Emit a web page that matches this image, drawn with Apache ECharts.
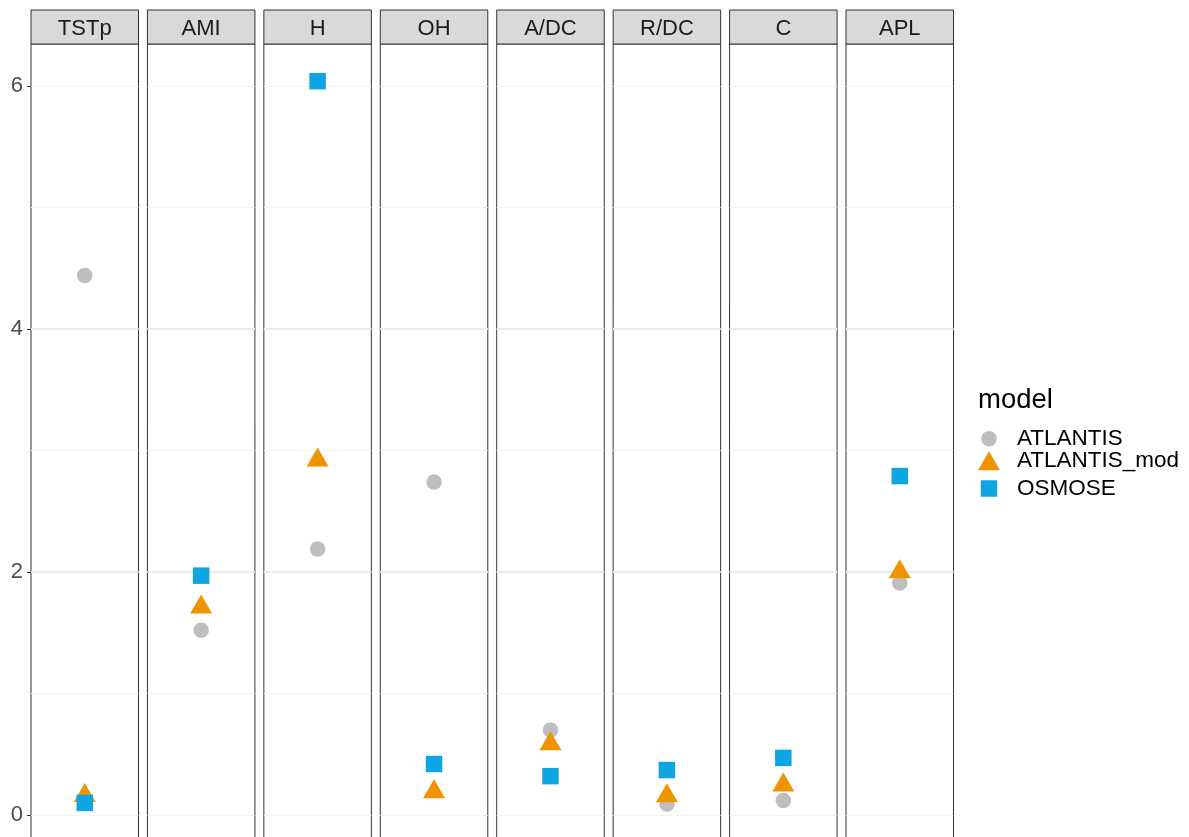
<!DOCTYPE html>
<html><head><meta charset="utf-8">
<script src="https://cdn.jsdelivr.net/npm/echarts@6/dist/echarts.min.js"></script>
<style>html,body{margin:0;padding:0;background:#fff}#c{width:1189px;height:837px}</style>
</head><body><div id="c"></div>
<script>
// ---- data ----
const categories = ['TSTp', 'AMI', 'H', 'OH', 'A/DC', 'R/DC', 'C', 'APL'];
const models = ['ATLANTIS', 'ATLANTIS_mod', 'OSMOSE'];
const atlantis    = [4.44, 1.52, 2.19, 2.74, 0.70, 0.09, 0.12, 1.91];
const atlantisMod = [0.16, 1.71, 2.92, 0.19, 0.585, 0.157, 0.246, 2.00];
const osmose      = [0.10, 1.97, 6.04, 0.42, 0.32, 0.37, 0.47, 2.79];
const yTicks = [0, 2, 4, 6];

// ---- styling ----
const Y_MIN = -0.222, Y_MAX = 6.346;
const FONT = '"Liberation Sans", Arial, sans-serif';
const colors  = {ATLANTIS: '#BEBEBE', ATLANTIS_mod: '#EF9400', OSMOSE: '#0FA5E3'};
const symbols = {ATLANTIS: 'circle', ATLANTIS_mod: 'triangle', OSMOSE: 'rect'};
const sizes   = {ATLANTIS: 15.5, ATLANTIS_mod: [22, 19], OSMOSE: 16.5};
const offsets = {ATLANTIS: [0, 0], ATLANTIS_mod: [0, -3.2], OSMOSE: [0, 0]};
const values  = {ATLANTIS: atlantis, ATLANTIS_mod: atlantisMod, OSMOSE: osmose};

const PANEL_LEFT = 31, PANEL_STEP = 116.43, PANEL_W = 107.5;
const grids = [], xAxes = [], yAxes = [], series = [];

categories.forEach((cat, i) => {
  const left = PANEL_LEFT + i * PANEL_STEP;
  const pg = grids.length;
  grids.push({left: left, top: 44, width: PANEL_W, height: 798, show: true, outerBoundsMode: 'none',
    containLabel: false, borderColor: '#333333', borderWidth: 1, backgroundColor: 'transparent'});
  const sg = grids.length;
  grids.push({left: left, top: 10, width: PANEL_W, height: 34, show: true, outerBoundsMode: 'none',
    containLabel: false, borderColor: '#333333', borderWidth: 1, backgroundColor: '#D9D9D9'});

  const px = xAxes.length;
  xAxes.push({gridIndex: pg, type: 'category', data: [cat], show: false});
  xAxes.push({gridIndex: sg, type: 'category', data: [cat],
    axisLine: {show: false}, axisTick: {show: false}, splitLine: {show: false},
    axisLabel: {inside: true, margin: 15, verticalAlign: 'middle', color: '#1A1A1A',
      fontSize: 22, fontFamily: FONT}});

  // minor grid axis
  yAxes.push({gridIndex: pg, type: 'value', position: 'right', min: Y_MIN, max: Y_MAX,
    minInterval: 1, maxInterval: 1,
    axisLine: {show: false}, axisTick: {show: false}, axisLabel: {show: false},
    splitLine: {show: true, showMinLine: false, showMaxLine: false,
      lineStyle: {color: '#F2F2F2', width: 1.2}}});
  const py = yAxes.length;
  yAxes.push({gridIndex: pg, type: 'value', position: 'left', min: Y_MIN, max: Y_MAX,
    minInterval: 2, maxInterval: 2,
    axisLine: {show: false},
    axisTick: {show: i === 0, length: 4, customValues: yTicks, lineStyle: {color: '#333333', width: 1}},
    axisLabel: {show: i === 0, customValues: yTicks, margin: 8, fontSize: 22, color: '#4D4D4D',
      fontFamily: FONT, padding: [4, 0, 0, 0],
      formatter: v => (yTicks.indexOf(v) >= 0 ? String(v) : '')},
    splitLine: {show: true, showMinLine: false, showMaxLine: false,
      lineStyle: {color: '#EBEBEB', width: 2}}});
  yAxes.push({gridIndex: sg, type: 'value', show: false});

  models.forEach(m => {
    series.push({
      type: 'scatter', name: m, xAxisIndex: px, yAxisIndex: py,
      symbol: symbols[m], symbolSize: sizes[m], symbolOffset: offsets[m],
      itemStyle: {color: colors[m], opacity: 1},
      emphasis: {disabled: true},
      data: [[cat, values[m][i]]]
    });
  });
});

const legendTops = {ATLANTIS: 427.3, ATLANTIS_mod: 449.3, OSMOSE: 477};
const legendW = {ATLANTIS: 15.5, ATLANTIS_mod: 22, OSMOSE: 16.5};
const legendH = {ATLANTIS: 15.5, ATLANTIS_mod: 19, OSMOSE: 16.5};
const legends = models.map(m => ({
  data: [{name: m, icon: symbols[m]}],
  orient: 'vertical', selectedMode: false, padding: 0,
  left: 989 - legendW[m] / 2, top: legendTops[m],
  itemWidth: legendW[m], itemHeight: legendH[m], symbolKeepAspect: false,
  textStyle: {fontSize: 22.5, color: '#000000', fontFamily: FONT, lineHeight: 22,
    padding: [0, 0, 0, 1017 - (989 - legendW[m] / 2 + legendW[m] + 5)]}
}));

const chart = echarts.init(document.getElementById('c'), null, {renderer: 'canvas'});
chart.setOption({
  animation: false,
  backgroundColor: '#FFFFFF',
  title: {text: 'model', left: 978, top: 386, padding: 0,
    textStyle: {fontSize: 27.5, fontWeight: 'normal', color: '#000000', fontFamily: FONT}},
  legend: legends,
  grid: grids, xAxis: xAxes, yAxis: yAxes, series: series
});
</script></body></html>
